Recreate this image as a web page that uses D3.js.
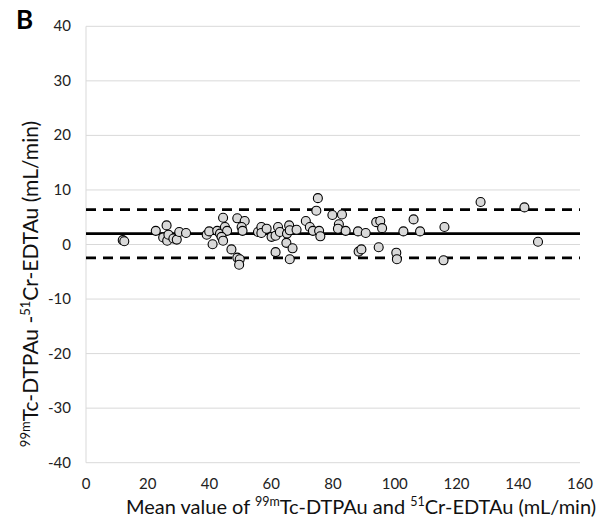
<!DOCTYPE html>
<html>
<head>
<meta charset="utf-8">
<script src="https://cdn.jsdelivr.net/npm/d3@7"></script>
<style>
  body { margin: 0; background: #fff; }
  text { font-family: Lato, "Open Sans", sans-serif; }
</style>
</head>
<body>
<svg id="chart" width="606" height="524"></svg>
<script>
// mean of the two methods (mL/min)
const meanValues = [
    11.9, 12.4, 22.6, 26.1, 25.0, 26.3, 26.7, 28.3, 29.4, 30.2, 32.4,
    39.1, 39.9, 41.0, 42.5, 43.4, 44.4, 45.0, 45.7, 43.9, 44.4, 47.1,
    49.0, 49.8, 49.6, 49.0, 51.4, 50.4, 50.7, 55.7, 56.8, 56.8, 58.5,
    60.1, 61.4, 62.2, 62.8, 65.1, 65.8, 66.0, 64.9, 66.9, 61.4, 66.0,
    68.2, 71.2, 72.5, 73.5, 75.5, 75.9, 75.1, 74.6, 79.8, 82.9, 81.9,
    81.6, 84.1, 88.1, 88.3, 89.2, 90.6, 94.0, 95.3, 95.9, 94.8, 100.5,
    100.7, 102.8, 106.1, 108.2, 116.1, 115.8, 127.8, 142.0, 146.4
];
// difference 99mTc-DTPAu - 51Cr-EDTAu (mL/min)
const diffValues = [
    0.8, 0.6, 2.5, 3.5, 1.3, 0.7, 1.8, 1.1, 0.9, 2.3, 2.1,
    1.8, 2.4, 0.05, 2.5, 2.0, 4.9, 3.2, 2.5, 1.4, 0.7, -0.9,
    -2.4, -2.7, -3.7, 4.8, 4.3, 3.2, 2.5, 2.3, 3.2, 2.1, 2.9,
    1.4, 1.6, 3.2, 2.3, 2.0, 3.5, 2.6, 0.3, -0.7, -1.4, -2.7,
    2.7, 4.3, 3.2, 2.5, 2.5, 1.5, 8.5, 6.2, 5.4, 5.5, 3.7,
    2.9, 2.5, 2.4, -1.3, -0.9, 2.1, 4.1, 4.3, 3.0, -0.5, -1.5,
    -2.7, 2.4, 4.6, 2.4, 3.2, -2.9, 7.8, 6.8, 0.5
];
const meanDiff = 2.0;
const upperLimit = 6.4;
const lowerLimit = -2.45;

const xTicks = [0, 20, 40, 60, 80, 100, 120, 140, 160];
const yTicks = [-40, -30, -20, -10, 0, 10, 20, 30, 40];

const points = meanValues.map((m, i) => ({x: m, y: diffValues[i]}));

const svg = d3.select("#chart");

const x = d3.scaleLinear().domain([0, 160]).range([86, 580]);
const y = d3.scaleLinear().domain([-40, 40]).range([462.7, 26.3]);

// gridlines
svg.append("g")
    .selectAll("line")
    .data(yTicks)
    .enter()
    .append("line")
    .attr("x1", x(0))
    .attr("x2", x(160))
    .attr("y1", d => y(d))
    .attr("y2", d => y(d))
    .attr("stroke", "#d9d9d9")
    .attr("stroke-width", 1);

// y axis line
svg.append("line")
    .attr("x1", x(0)).attr("x2", x(0))
    .attr("y1", y(40)).attr("y2", y(-40))
    .attr("stroke", "#d9d9d9")
    .attr("stroke-width", 1);

// y tick labels
svg.append("g")
    .selectAll("text")
    .data(yTicks)
    .enter()
    .append("text")
    .attr("x", 71)
    .attr("y", d => y(d) + 5)
    .attr("text-anchor", "end")
    .attr("font-size", "15px")
    .attr("fill", "#222")
    .text(d => d);

// x tick labels
svg.append("g")
    .selectAll("text")
    .data(xTicks)
    .enter()
    .append("text")
    .attr("x", d => x(d))
    .attr("y", 489)
    .attr("text-anchor", "middle")
    .attr("font-size", "15px")
    .attr("fill", "#222")
    .text(d => d);

// mean and limits of agreement
svg.append("line")
    .attr("x1", x(0)).attr("x2", x(160))
    .attr("y1", y(meanDiff)).attr("y2", y(meanDiff))
    .attr("stroke", "#000")
    .attr("stroke-width", 2.6);

svg.append("g")
    .selectAll("line")
    .data([upperLimit, lowerLimit])
    .enter()
    .append("line")
    .attr("x1", x(0)).attr("x2", x(160))
    .attr("y1", d => y(d)).attr("y2", d => y(d))
    .attr("stroke", "#000")
    .attr("stroke-width", 2.6)
    .attr("stroke-dasharray", "10,7");

// points
svg.append("g")
    .selectAll("circle")
    .data(points)
    .enter()
    .append("circle")
    .attr("cx", d => x(d.x))
    .attr("cy", d => y(d.y))
    .attr("r", 4.5)
    .attr("fill", "#d9d9d9")
    .attr("stroke", "#000")
    .attr("stroke-width", 1.1);

// panel letter
svg.append("text")
    .attr("x", 16)
    .attr("y", 29)
    .attr("font-size", "26px")
    .attr("font-weight", "bold")
    .attr("fill", "#000")
    .text("B");

// x axis title
const xTitle = svg.append("text")
    .attr("x", 361)
    .attr("y", 514)
    .attr("text-anchor", "middle")
    .attr("font-size", "20px")
    .attr("fill", "#111");
xTitle.append("tspan").text("Mean value of ");
xTitle.append("tspan").attr("font-size", "12.5px").attr("dy", -8).text("99m");
xTitle.append("tspan").attr("dy", 8).text("Tc-DTPAu and ");
xTitle.append("tspan").attr("font-size", "12.5px").attr("dy", -8).text("51");
xTitle.append("tspan").attr("dy", 8).text("Cr-EDTAu (mL/min)");

// y axis title
const yTitle = svg.append("text")
    .attr("transform", "translate(38,284) rotate(-90)")
    .attr("text-anchor", "middle")
    .attr("font-size", "21px")
    .attr("fill", "#111");
yTitle.append("tspan").attr("font-size", "13px").attr("dy", -8).text("99m");
yTitle.append("tspan").attr("dy", 8).text("Tc-DTPAu -");
yTitle.append("tspan").attr("font-size", "13px").attr("dy", -8).text("51");
yTitle.append("tspan").attr("dy", 8).text("Cr-EDTAu (mL/min)");
</script>
</body>
</html>
